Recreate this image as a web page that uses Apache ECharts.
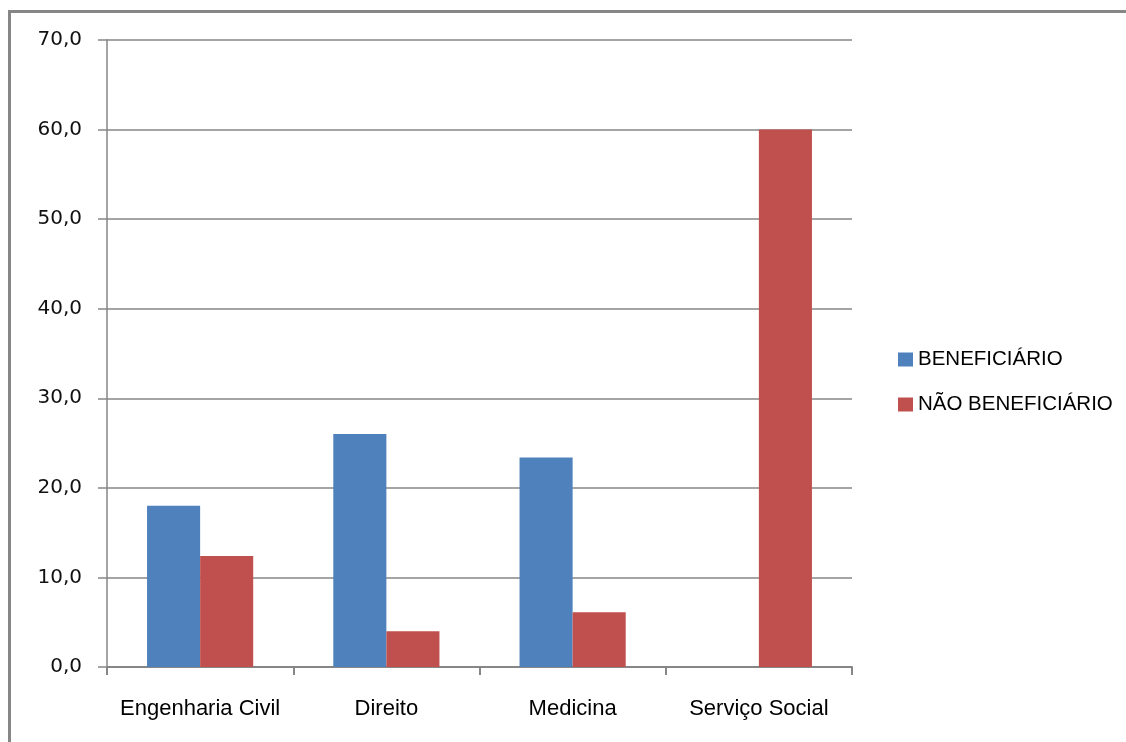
<!DOCTYPE html>
<html>
<head>
<meta charset="utf-8">
<script src="https://cdn.jsdelivr.net/npm/echarts@6/dist/echarts.min.js"></script>
<style>
html,body{margin:0;padding:0;background:#fff;}
#c{width:1126px;height:742px;}
</style>
</head>
<body>
<div id="c"></div>
<script>
const categories = ['Engenharia Civil', 'Direito', 'Medicina', 'Serviço Social'];
const seriesNames = ['BENEFICIÁRIO', 'NÃO BENEFICIÁRIO'];
const beneficiario = [18.0, 26.0, 23.4, 0];
const naoBeneficiario = [12.4, 4.0, 6.1, 60.0];
const yMin = 0, yMax = 70, yStep = 10;

const narrow = '"Liberation Sans", sans-serif';
const chart = echarts.init(document.getElementById('c'));
chart.setOption({
  animation: false,
  backgroundColor: '#ffffff',
  graphic: [
    { type: 'line', shape: { x1: 8, y1: 11.5, x2: 1126, y2: 11.5 }, style: { stroke: '#868686', lineWidth: 3 } },
    { type: 'line', shape: { x1: 9.5, y1: 10, x2: 9.5, y2: 742 }, style: { stroke: '#868686', lineWidth: 3 } }
  ],
  grid: { left: 107, right: 274, top: 40, bottom: 75, containLabel: false },
  legend: {
    orient: 'vertical',
    left: 893, top: 344,
    itemWidth: 15, itemHeight: 14, itemGap: 24,
    icon: 'rect',
    textStyle: { fontFamily: narrow, fontSize: 20.5, lineHeight: 20, color: '#000' },
    data: seriesNames
  },
  xAxis: {
    type: 'category',
    data: categories,
    axisLine: { lineStyle: { color: '#868686', width: 2 } },
    axisTick: { show: true, length: 8, lineStyle: { color: '#868686', width: 2 } },
    axisLabel: { interval: 0, fontFamily: narrow, fontSize: 22, color: '#000', margin: 31 }
  },
  yAxis: {
    type: 'value',
    min: yMin, max: yMax, interval: yStep,
    axisLine: { show: true, lineStyle: { color: '#868686', width: 1.5 } },
    axisTick: { show: true, length: 9, lineStyle: { color: '#868686', width: 1.5 } },
    splitLine: { lineStyle: { color: '#868686', width: 1.5 } },
    axisLabel: { fontFamily: '"DejaVu Sans", sans-serif', fontSize: 20, color: '#111', margin: 25,
      formatter: v => v.toFixed(1).replace('.', ',') }
  },
  series: [
    { name: seriesNames[0], type: 'bar', data: beneficiario, barGap: '0%', barCategoryGap: '43%',
      itemStyle: { color: '#4F81BD' } },
    { name: seriesNames[1], type: 'bar', data: naoBeneficiario, barGap: '0%', barCategoryGap: '43%',
      itemStyle: { color: '#C0504D' } }
  ]
});
</script>
</body>
</html>
